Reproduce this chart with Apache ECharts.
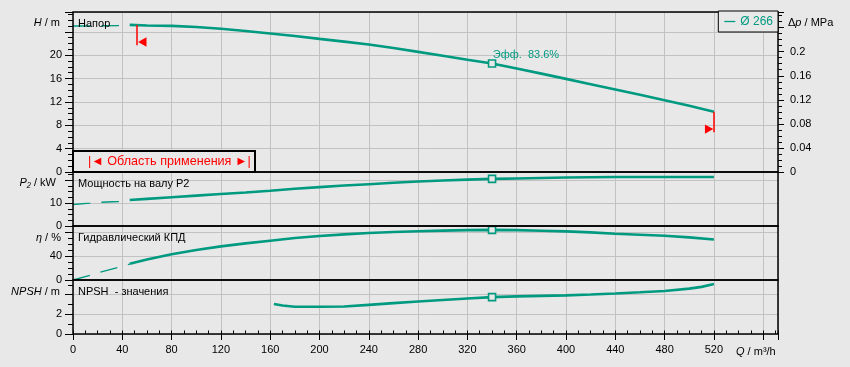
<!DOCTYPE html>
<html><head><meta charset="utf-8">
<script src="https://cdn.jsdelivr.net/npm/echarts@6/dist/echarts.min.js"></script>
<style>html,body{margin:0;padding:0;background:#e8e8e8;}#c{width:850px;height:367px;}</style>
</head><body><div id="c"></div>
<script>
// ---------- data ----------
const curveName = 'Ø 266';
const qDashed   = [0, 14, 23, 37, 46];
const hDashed   = [25.0, 25.0, 25.05, 25.1, 25.15];
const p2Dashed  = [9.35, 9.95, 10.35, 10.65, 11.1];
const etaDashed = [0, 8, 13.5, 21.2, 26.5];

const qMain   = [46, 60, 80, 100, 120, 140, 160, 180, 200, 220, 240, 260, 280, 300, 320, 340, 360, 380, 400, 420, 440, 460, 480, 500, 520];
const hMain   = [25.2, 25.1, 25.03, 24.82, 24.52, 24.15, 23.72, 23.28, 22.8, 22.33, 21.83, 21.22, 20.57, 19.9, 19.22, 18.58, 17.73, 16.85, 15.95, 15.04, 14.13, 13.22, 12.3, 11.33, 10.3];
const p2Main  = [11.3, 11.8, 12.5, 13.2, 13.9, 14.6, 15.35, 16.2, 16.9, 17.6, 18.2, 18.8, 19.35, 19.8, 20.2, 20.5, 20.7, 20.9, 21.1, 21.2, 21.3, 21.35, 21.35, 21.35, 21.35];
const etaMain = [27, 34, 43, 50, 56, 61, 65.5, 70, 73.3, 76, 78.3, 80, 81.3, 82.3, 83.1, 83.6, 83.1, 82.2, 81, 79.3, 77.2, 75.5, 73.8, 71, 67.5];

const qNpsh    = [163, 170, 180, 200, 220, 240, 260, 280, 300, 320, 340, 360, 380, 400, 420, 440, 460, 480, 500, 510, 520];
const npshVals = [3.05, 2.9, 2.78, 2.77, 2.8, 2.97, 3.14, 3.31, 3.47, 3.62, 3.76, 3.83, 3.88, 3.93, 4.02, 4.13, 4.25, 4.38, 4.62, 4.8, 5.1];

const dutyQ = 340;
const dutyEff = 83.6;
const limitQ = [52, 520];

// ---------- helpers ----------
const teal = '#009a80';
const bg = '#e8e8e8';
const gridColor = '#c2c2c2';
const font = 'Liberation Sans, Arial, sans-serif';
const pairs = (xs, ys) => xs.map((x, i) => [x, ys[i]]);
function valAt(xs, ys, x) {
  for (let i = 1; i < xs.length; i++) {
    if (x <= xs[i]) { const t = (x - xs[i-1]) / (xs[i] - xs[i-1]); return ys[i-1] + t * (ys[i] - ys[i-1]); }
  }
  return ys[ys.length - 1];
}
const hLeft = valAt(qMain, hMain, limitQ[0]);
const hRight = valAt(qMain, hMain, limitQ[1]);

const grids = [
  {left: 73, right: 72, top: 12, height: 160},
  {left: 73, right: 72, top: 172, height: 54},
  {left: 73, right: 72, top: 226, height: 54},
  {left: 73, right: 72, top: 280, height: 54}
].map(g => Object.assign(g, {show: true, backgroundColor: 'transparent', borderColor: '#000', borderWidth: 1.5, z: 10}));

const xMax = 572;
function xMajor(gi, labels) {
  return {
    type: 'value', gridIndex: gi, min: 0, max: xMax, interval: 40,
    axisLine: {show: false},
    axisTick: {show: labels, length: 6, lineStyle: {color: '#000', width: 1}},
    axisLabel: {show: labels, margin: 10, fontSize: 11, fontFamily: font, color: '#000',
      formatter: v => (v <= 520 && v % 40 === 0) ? String(v) : ''},
    splitLine: {show: true, lineStyle: {color: gridColor, width: 1}}
  };
}
const xAxis = [xMajor(0, false), xMajor(1, false), xMajor(2, false), xMajor(3, true),
  {type: 'value', gridIndex: 3, min: 0, max: xMax, interval: 10, axisLine: {show: false},
   axisTick: {show: true, length: 3.5, lineStyle: {color: '#000'}}, axisLabel: {show: false}, splitLine: {show: false}}];

function yMajor(gi, max, interval, showMax, pos, fmt, tickLen, margin, split) {
  return {
    type: 'value', gridIndex: gi, position: pos, min: 0, max: max, interval: interval,
    axisLine: {show: false},
    axisTick: {show: true, length: tickLen, lineStyle: {color: '#000', width: 1}},
    axisLabel: {show: true, margin: margin, fontSize: 11, fontFamily: font, color: '#000',
      formatter: v => {
        const k = Math.round(v / interval * 1000) / 1000;
        if (Math.abs(k - Math.round(k)) > 1e-6) return '';
        if (v > showMax + 1e-9) return '';
        return fmt(v);
      }},
    splitLine: {show: split, lineStyle: {color: gridColor, width: 1}}
  };
}
function yMinor(gi, max, interval, pos, tickLen) {
  return {
    type: 'value', gridIndex: gi, position: pos, min: 0, max: max, interval: interval,
    axisLine: {show: false}, axisLabel: {show: false}, splitLine: {show: false},
    axisTick: {show: true, length: tickLen, lineStyle: {color: '#000', width: 1}}
  };
}
const intFmt = v => String(Math.round(v));
const yAxis = [
  yMajor(0, 27.4, 4, 20, 'left', intFmt, 8, 11, true),      // 0 H
  yMinor(0, 27.4, 1, 'left', 5),                            // 1
  yMajor(0, 0.266, 0.04, 0.2, 'right', v => String(+v.toFixed(2)), 6, 12, false), // 2 dp
  yMinor(0, 0.266, 0.01, 'right', 4),                       // 3
  yMajor(1, 23.5, 10, 10, 'left', intFmt, 8, 11, true),     // 4 P2
  yMinor(1, 23.5, 2.5, 'left', 5),                          // 5
  yMajor(2, 90, 40, 40, 'left', intFmt, 8, 11, true),       // 6 eta
  yMinor(2, 90, 10, 'left', 5),                             // 7
  yMajor(3, 5.5, 2, 2, 'left', intFmt, 8, 11, true),        // 8 NPSH
  yMinor(3, 5.5, 1, 'left', 5)                              // 9
];

const dutyMarker = (val) => ({
  coord: [dutyQ, val], symbol: 'rect', symbolSize: 7,
  itemStyle: {color: bg, borderColor: teal, borderWidth: 1.6}, label: {show: false}
});
function dashed(xi, yi, ys, name) {
  return {type: 'line', name: name, xAxisIndex: xi, yAxisIndex: yi, data: pairs(qDashed, ys),
    showSymbol: false, symbol: 'none', silent: true, z: 3,
    lineStyle: {color: teal, width: 1.4, type: [17.5, 11]}};
}
function solid(xi, yi, xs, ys, name, extra) {
  return Object.assign({type: 'line', name: name, xAxisIndex: xi, yAxisIndex: yi, data: pairs(xs, ys),
    showSymbol: false, symbol: 'none', silent: true, z: 3, color: teal,
    lineStyle: {color: teal, width: 2.6}}, extra || {});
}

const series = [
  dashed(0, 0, hDashed, 'H dashed'),
  solid(0, 0, qMain, hMain, curveName, {
    markPoint: {silent: true, data: [
      Object.assign(dutyMarker(valAt(qMain, hMain, dutyQ)), {
        label: {show: true, position: [5, -4], align: 'left', verticalAlign: 'middle',
          formatter: 'Эфф.  ' + dutyEff + '%', color: teal, fontSize: 11, fontFamily: font}}),
      {coord: [limitQ[0], hLeft - 2.9], symbol: 'triangle', symbolSize: [9.4, 8.4], symbolRotate: 90,
        symbolOffset: [5.2, 0], itemStyle: {color: '#ff0000'}, label: {show: false}},
      {coord: [limitQ[1], hRight - 2.95], symbol: 'triangle', symbolSize: [9.4, 8.4], symbolRotate: -90,
        symbolOffset: [-4.8, 0], itemStyle: {color: '#ff0000'}, label: {show: false}}
    ]},
    markLine: {silent: true, symbol: ['none', 'none'], label: {show: false},
      lineStyle: {color: '#ff0000', width: 1.5, type: 'solid'},
      data: [
        [{coord: [limitQ[0], hLeft]}, {coord: [limitQ[0], hLeft - 3.45]}],
        [{coord: [limitQ[1], hRight]}, {coord: [limitQ[1], hRight - 3.5]}]
      ]}
  }),
  dashed(1, 4, p2Dashed, 'P2 dashed'),
  solid(1, 4, qMain, p2Main, 'P2', {markPoint: {silent: true, data: [dutyMarker(valAt(qMain, p2Main, dutyQ))]}}),
  dashed(2, 6, etaDashed, 'eta dashed'),
  solid(2, 6, qMain, etaMain, 'eta', {markPoint: {silent: true, data: [dutyMarker(valAt(qMain, etaMain, dutyQ))]}}),
  solid(3, 8, qNpsh, npshVals, 'NPSH', {markPoint: {silent: true, data: [dutyMarker(valAt(qNpsh, npshVals, dutyQ))]}})
];

function txt(x, y, text, align, extra) {
  return {type: 'text', x: x, y: y, z: 20, silent: true, style: Object.assign({
    text: text, textAlign: align, textVerticalAlign: 'middle', fill: '#000',
    font: '11px ' + font,
    rich: {i: {fontStyle: 'italic', fontSize: 11, fontFamily: font, fill: '#000'}}
  }, extra || {})};
}

const option = {
  backgroundColor: bg,
  animation: false,
  textStyle: {fontFamily: font},
  grid: grids,
  xAxis: xAxis,
  yAxis: yAxis,
  series: series,
  legend: {
    right: 72, top: 11, orient: 'horizontal',
    data: [{name: curveName, icon: 'rect'}],
    itemWidth: 11, itemHeight: 1.3,
    padding: [3, 5, 3, 6],
    backgroundColor: bg, borderColor: '#000', borderWidth: 1,
    textStyle: {color: teal, fontSize: 12, fontFamily: font, lineHeight: 15},
    selectedMode: false, z: 20
  },
  title: {
    text: '|◄ Область применения ►|',
    left: 73, top: 151,
    padding: [3, 5, 3, 15],
    backgroundColor: bg, borderColor: '#000', borderWidth: 2,
    textStyle: {color: '#ff0000', fontSize: 12.6, fontWeight: 'normal', fontFamily: font, lineHeight: 15},
    z: 15
  },
  graphic: [
    txt(78, 24, 'Напор', 'left'),
    txt(78, 184, 'Мощность на валу P2', 'left'),
    txt(78, 238, 'Гидравлический КПД', 'left'),
    txt(78, 292, 'NPSH  - значения', 'left'),
    txt(60, 23, '{i|H} / m', 'right'),
    txt(56, 183, '{i|P₂} / kW', 'right'),
    txt(61, 238, '{i|η} / %', 'right'),
    txt(60, 292, '{i|NPSH} / m', 'right'),
    txt(788, 23, 'Δ{i|p} / MPa', 'left'),
    txt(736, 352, '{i|Q} / m³/h', 'left')
  ]
};
const chart = echarts.init(document.getElementById('c'), null, {renderer: 'canvas'});
chart.setOption(option);
</script>
</body></html>
